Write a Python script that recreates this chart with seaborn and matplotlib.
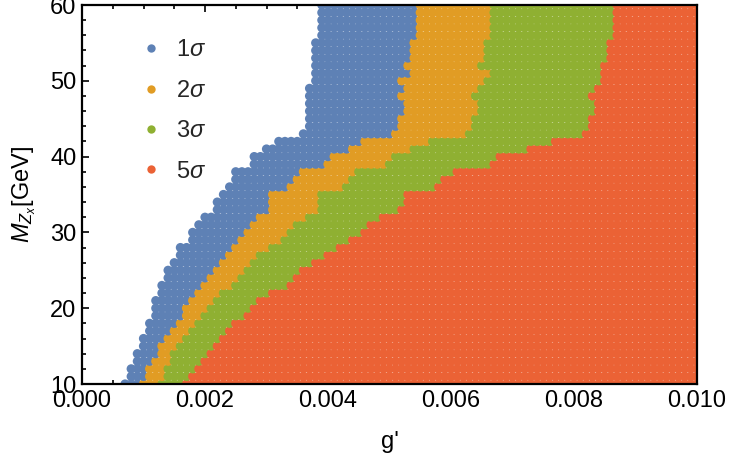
import numpy as np
import pandas as pd
import matplotlib
matplotlib.use("Agg")
import matplotlib.pyplot as plt
import seaborn as sns
from matplotlib.ticker import MultipleLocator, FormatStrFormatter
from matplotlib.lines import Line2D

# ---------------- data ----------------
# mass rows of the scan (GeV)
mass_rows = list(range(10, 61))
# g' scan columns
g_columns = np.linspace(0.0, 0.010, 101)

# lowest g' (units of 1e-4) at which each significance level is reached, per mass row
onset_1sigma = [7, 8, 8, 9, 9, 10, 10, 11, 11, 12, 12, 12, 13, 13, 14, 14, 15, 16, 16, 18,
                18, 19, 20, 22, 22, 23, 24, 25, 25, 28, 28, 30, 32, 36, 37, 37, 37, 37, 37, 37,
                38, 38, 38, 38, 38, 38, 39, 39, 39, 39, 39]
onset_2sigma = [10, 11, 11, 12, 13, 13, 14, 15, 16, 17, 17, 18, 19, 20, 21, 22, 23, 24, 25, 26,
                27, 28, 29, 31, 31, 31, 34, 35, 36, 40, 41, 44, 46, 51, 52, 52, 53, 53, 52, 53,
                52, 54, 53, 54, 54, 54, 55, 55, 55, 55, 55]
onset_3sigma = [13, 14, 14, 15, 15, 16, 17, 18, 19, 20, 21, 22, 23, 25, 26, 27, 28, 29, 31, 33,
                34, 35, 37, 39, 39, 39, 43, 44, 45, 50, 51, 54, 57, 63, 64, 64, 65, 65, 64, 65,
                66, 67, 65, 66, 66, 66, 67, 67, 67, 67, 67]
onset_5sigma = [17, 18, 19, 20, 21, 22, 23, 24, 25, 27, 28, 29, 31, 34, 35, 36, 38, 40, 42, 44,
                46, 47, 49, 52, 53, 53, 58, 59, 61, 67, 68, 73, 77, 82, 83, 83, 84, 84, 83, 84,
                85, 85, 85, 86, 86, 86, 87, 87, 87, 87, 87]

level_labels = ["1$\\sigma$", "2$\\sigma$", "3$\\sigma$", "5$\\sigma$"]
level_colors = ["#5E81B5", "#E19C24", "#8FB032", "#EB6235"]

# ---------------- build table of scan points ----------------
onsets = [onset_1sigma, onset_2sigma, onset_3sigma, onset_5sigma]
rows = []
for i, m in enumerate(mass_rows):
    for j, g in enumerate(g_columns):
        lev = None
        for k in range(4):
            if j >= onsets[k][i]:
                lev = k
        if lev is not None:
            rows.append({"g": g, "M": m, "level": level_labels[lev]})
df = pd.DataFrame(rows)

# ---------------- plot ----------------
sns.set_theme(style="ticks")
plt.rcParams["font.family"] = ["Liberation Sans", "DejaVu Sans"]
plt.rcParams["mathtext.fontset"] = "custom"
plt.rcParams["mathtext.rm"] = "Liberation Sans"
plt.rcParams["mathtext.it"] = "Liberation Sans:italic"

fig = plt.figure(figsize=(7.3, 4.65), dpi=100)
ax = fig.add_axes([82 / 730, 1 - 384 / 465, 615 / 730, 379 / 465])

sns.scatterplot(data=df, x="g", y="M", hue="level", hue_order=level_labels,
                palette=level_colors, s=44, linewidth=0, edgecolor="none",
                legend=False, ax=ax)

ax.set_xlim(0, 0.010)
ax.set_ylim(10, 60)
ax.xaxis.set_major_locator(MultipleLocator(0.002))
ax.xaxis.set_minor_locator(MultipleLocator(0.0005))
ax.yaxis.set_major_locator(MultipleLocator(10))
ax.yaxis.set_minor_locator(MultipleLocator(2))
ax.xaxis.set_major_formatter(FormatStrFormatter("%.3f"))

for side in ["left", "right", "top", "bottom"]:
    ax.spines[side].set_visible(True)
    ax.spines[side].set_linewidth(1.6)
    ax.spines[side].set_color("black")
ax.tick_params(which="both", direction="in", top=True, right=True, color="black",
               labelsize=17, labelcolor="black", width=1.2)
ax.tick_params(which="major", length=5, pad=4)
ax.tick_params(which="minor", length=3)

ax.set_xlabel("g'", fontsize=17, color="black", labelpad=14)
ax.set_ylabel("$M_{Z_x}$[GeV]", fontsize=17, color="black", labelpad=9)

handles = [Line2D([], [], linestyle="none", marker="o", markersize=6,
                  markerfacecolor=c, markeredgecolor="none") for c in level_colors]
ax.legend(handles, level_labels, loc="upper left", bbox_to_anchor=(0.093, 0.909),
          frameon=False, fontsize=17, handlelength=1.0, handletextpad=0.55,
          labelspacing=0.78, borderpad=0, borderaxespad=0)

fig.savefig("out.png", dpi=100)
